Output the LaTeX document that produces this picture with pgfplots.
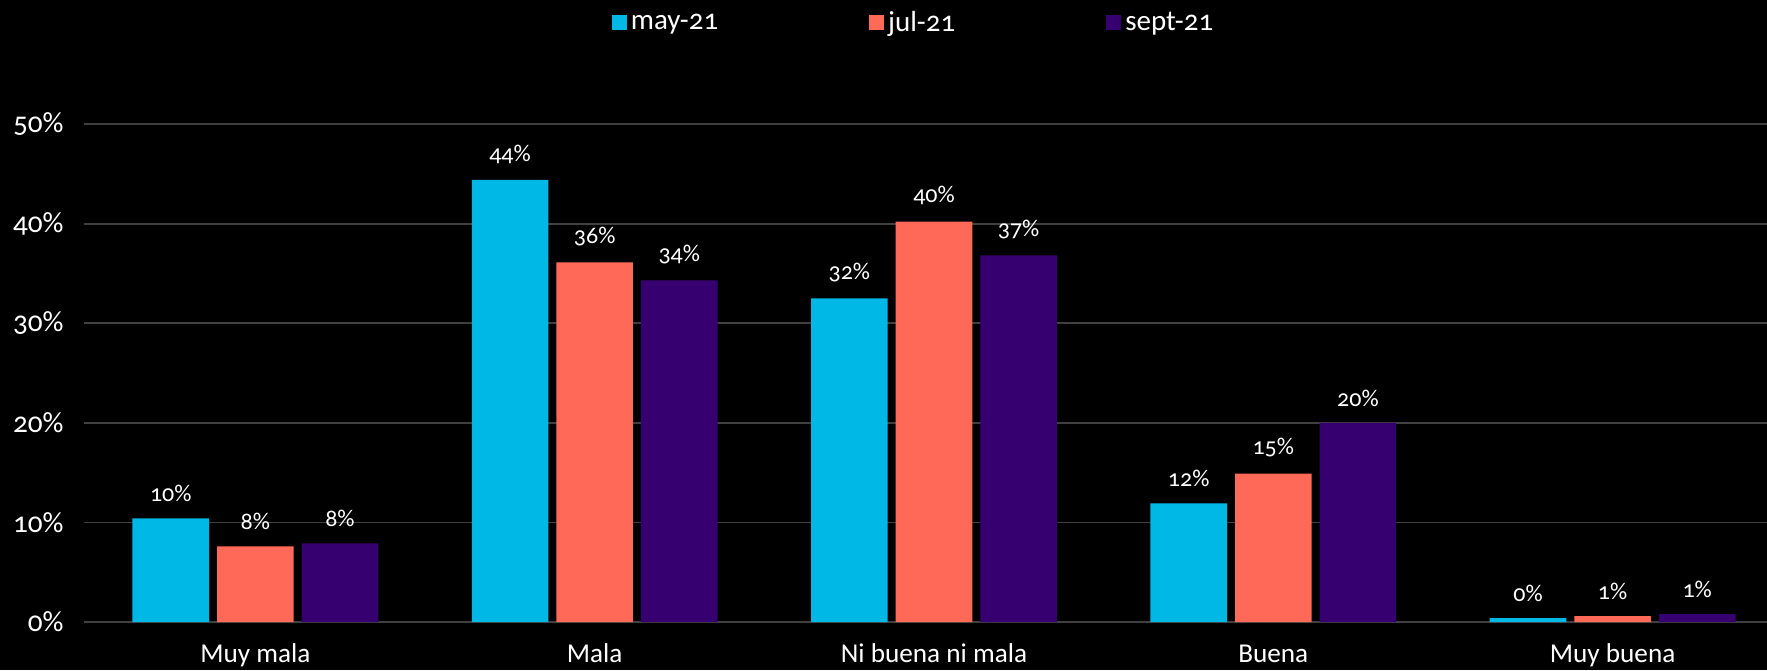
\documentclass[border=0pt]{standalone}
\usepackage{pgfplots}
\pgfplotsset{compat=1.18}
\usepackage{fontspec}
\setmainfont{Carlito}[Numbers=OldStyle]
\definecolor{cMay}{RGB}{0,184,230}
\definecolor{cJul}{RGB}{255,105,87}
\definecolor{cSep}{RGB}{54,0,112}
\definecolor{gridc}{RGB}{64,64,64}
\begin{document}
\begin{tikzpicture}
\useasboundingbox (0,0) rectangle (883.5pt,335pt);
\fill[black] (0,0) rectangle (883.5pt,335pt);
\begin{axis}[
 at={(42pt,24pt)}, anchor=south west,
 scale only axis, width=841.5pt, height=273.9pt,
 xmin=-0.505, xmax=4.455, ymin=0, ymax=55,
 ybar=4pt, bar width=38.3pt,
 axis line style={draw=none},
 major tick length=0pt,
 xtick={0,...,4},
 xticklabels={Muy mala,Mala,Ni buena ni mala,Buena,Muy buena},
 ytick={0,10,20,30,40,50},
 yticklabels={0\%,10\%,20\%,30\%,40\%,50\%},
 ymajorgrids, grid style={gridc, line width=0.9pt},
 xticklabel style={font=\fontsize{13.6}{15}\selectfont, text=white, anchor=base, yshift=-20.3pt},
 yticklabel style={font=\fontsize{14.6}{16}\selectfont, text=white, xshift=-6.7pt},
 nodes near coords, point meta=explicit symbolic,
 every node near coord/.append style={font=\fontsize{12}{14}\selectfont, text=white, inner sep=0pt, yshift=8pt},
 legend style={at={(0.4935,1.123)}, anchor=north, draw=none, fill=none, text=white,
   font=\fontsize{14.5}{16}\selectfont, inner sep=0pt},
 legend columns=3,
 legend style={/tikz/every even column/.append style={column sep=73.5pt}},
 legend image code/.code={\fill[#1] (0pt,-3.75pt) rectangle (7.5pt,3.75pt);},
]
\addplot[fill=cMay, draw=none] coordinates {(0,10.4) [10\%] (1,44.4) [44\%] (2,32.5) [32\%] (3,11.9) [12\%] (4,0.4) [0\%]};
\addplot[fill=cJul, draw=none] coordinates {(0,7.6) [8\%] (1,36.1) [36\%] (2,40.2) [40\%] (3,14.9) [15\%] (4,0.6) [1\%]};
\addplot[fill=cSep, draw=none] coordinates {(0,7.9) [8\%] (1,34.3) [34\%] (2,36.8) [37\%] (3,20.0) [20\%] (4,0.8) [1\%]};
\legend{may-21,jul-21,sept-21}
\end{axis}
\end{tikzpicture}
\end{document}
